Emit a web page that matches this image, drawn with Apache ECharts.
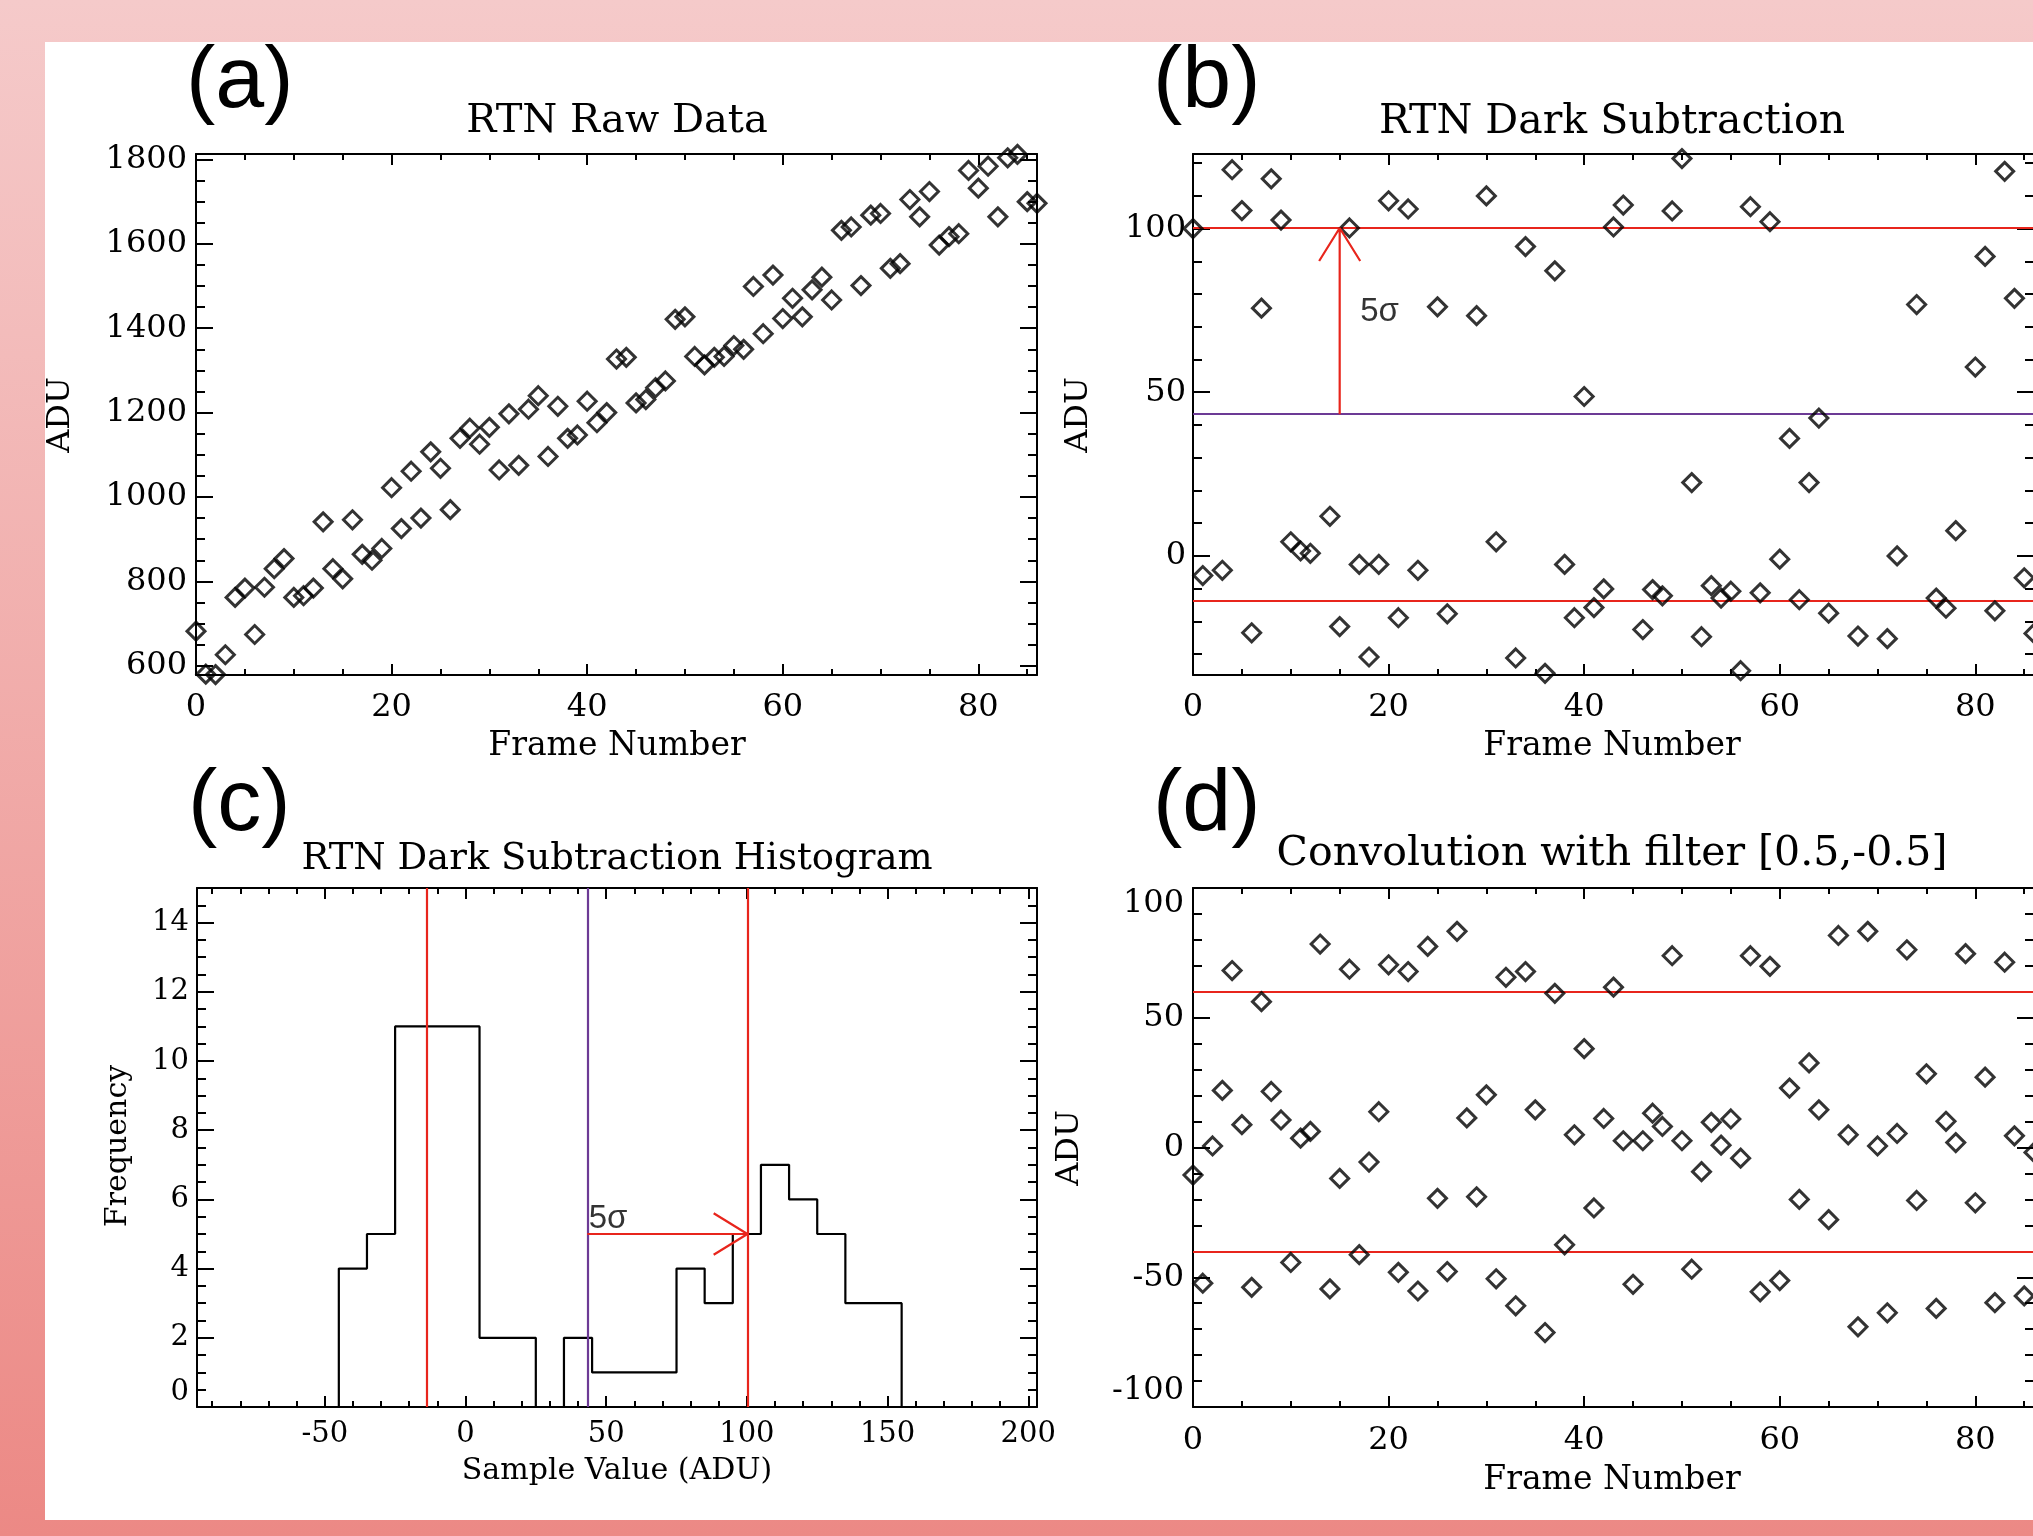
<!DOCTYPE html>
<html>
<head>
<meta charset="utf-8">
<script src="https://cdn.jsdelivr.net/npm/echarts@6/dist/echarts.min.js"></script>
<style>
html, body { margin: 0; padding: 0; }
body {
	width: 2033px;
	height: 1536px;
	overflow: hidden;
	position: relative;
	background: linear-gradient(to bottom, #f5caca 0%, #ec8985 100%);
}
.paper {
	position: absolute;
	left: 45px;
	top: 42px;
	width: 1988px;
	height: 1478px;
	background: #fff;
}
#chart {
	position: absolute;
	left: 0;
	top: 0;
	width: 2033px;
	height: 1536px;
}
</style>
</head>
<body>
<div class="paper"></div>
<div id="chart"></div>
<script>
// frame index 0..86
const frames = Array.from({length: 87}, (_, i) => i);

// (a) raw signal, ADU
const rawAdu = [
	682, 580, 579, 626, 762, 784, 674, 786, 830, 854,
	762, 766, 784, 941, 830, 806, 946, 864, 850, 878,
	1022, 925, 1061, 950, 1107, 1068, 970, 1139, 1163, 1125,
	1165, 1064, 1197, 1075, 1208, 1240, 1096, 1215, 1139, 1147,
	1227, 1176, 1200, 1327, 1331, 1223, 1231, 1259, 1275, 1421,
	1427, 1333, 1313, 1331, 1333, 1359, 1350, 1499, 1387, 1526,
	1423, 1471, 1427, 1491, 1521, 1467, 1632, 1640, 1501, 1668,
	1672, 1542, 1553, 1705, 1664, 1724, 1597, 1617, 1624, 1774,
	1732, 1784, 1664, 1804, 1812, 1700, 1696
];

// (b) dark subtracted, null = off the plotted range
const darkSub = [
	100, -6.0, null, -4.4, 118.0, 105.5, -23.5, 75.7, 115.2, 102.6,
	4.3, 1.5, 0.8, null, 12.1, -21.6, 100.2, -2.6, -30.9, -2.6,
	108.5, -18.9, 106.0, -4.4, null, 76.1, -17.7, null, null, 73.4,
	110.0, 4.3, null, -31.2, 94.5, null, -35.9, 87.1, -2.6, -18.9,
	48.7, -15.8, -10.1, 100.5, 107.2, null, -22.5, -10.3, -12.2, 105.4,
	121.4, 22.4, -24.7, -9.1, -12.9, -10.8, -35.1, 106.7, -11.3, 102.1,
	-1.0, 35.9, -13.4, 22.4, 42.1, -17.5, null, null, -24.5, null,
	null, -25.3, 0.0, null, 76.8, null, -12.9, -16.0, 7.7, null,
	57.7, 91.5, -16.8, 117.5, 78.7, -6.7, -23.7
];

// (d) convolution with [0.5,-0.5]
const convolved = [
	-10.6, -52.3, 0.6, 22.0, 68.2, 8.8, -53.9, 56.2, 21.6, 10.6,
	-44.3, 3.6, 6.2, 78.4, -54.5, -11.9, 68.7, -41.3, -5.6, 13.8,
	70.4, -48.1, 67.8, -55.3, 77.5, -19.6, -47.8, 83.3, 11.4, -19.0,
	20.3, -50.6, 65.6, -61.0, 67.8, 14.5, -71.3, 59.4, -37.5, 4.9,
	38.1, -23.3, 11.2, 61.8, 2.6, -52.7, 2.6, 13.2, 8.1, 73.9,
	2.6, -46.9, -9.3, 9.7, 0.9, 11.0, -4.1, 73.9, -55.6, 69.8,
	-51.3, 22.9, -20.0, 32.6, 14.5, -27.8, 81.7, 4.9, -69.1, 83.3,
	0.6, -63.7, 5.4, 76.2, -20.4, 28.4, -62.0, 10.1, 1.9, 74.7,
	-21.3, 27.1, -59.8, 71.4, 4.5, -57.2, -1.9
];

// (c) histogram
const histEdges = [-45, -35, -25, -15, -5, 5, 15, 25, 35, 45, 55, 65, 75, 85, 95, 105, 115, 125, 135, 145, 155];
const histCounts = [4, 5, 11, 11, 11, 2, 2, 0, 2, 1, 1, 1, 4, 3, 5, 7, 6, 5, 3, 3];

const darkMean = 43.3;
const fiveSigma = 56.9;
const convLimits = [60, -40];

const RED = '#e8251c';
const PURPLE = '#6c3a95';
const INK = '#000';
const serif = '"DejaVu Serif", serif';
const sans = '"Liberation Sans", Arial, sans-serif';

function range(a, b, s) {
	const out = [];
	for (let v = a; v <= b + 1e-9; v += s) out.push(+v.toFixed(6));
	return out;
}

const grid = [
	{left: 196, top: 154, width: 841, height: 521},
	{left: 1193, top: 154, width: 841, height: 521},
	{left: 197, top: 888, width: 840, height: 519},
	{left: 1193, top: 888, width: 841, height: 519}
].map(g => Object.assign({containLabel: false, outerBoundsMode: 'none'}, g));

const xAxis = [], yAxis = [];
// box axes: main side with labels + major ticks, minor ticks, then the mirrored side
function addFrame(list, horizontal, gi, min, max, majors, minors, label) {
	const sides = horizontal ? ['bottom', 'top'] : ['left', 'right'];
	const majorLen = horizontal ? 11 : 17;
	const minorLen = horizontal ? 6 : 9;
	const start = list.length;
	sides.forEach((side, k) => {
		list.push({
			type: 'value', gridIndex: gi, position: side, min: min, max: max,
			axisLine: {show: true, onZero: false, lineStyle: {color: INK, width: 2}},
			axisTick: {show: true, inside: true, length: majorLen, customValues: majors, lineStyle: {color: INK, width: 2}},
			axisLabel: k === 0 ? Object.assign({
				show: true, customValues: majors, color: INK, fontFamily: serif,
				formatter: v => String(v)
			}, label) : {show: false},
			splitLine: {show: false}
		});
		list.push({
			type: 'value', gridIndex: gi, position: side, min: min, max: max,
			axisLine: {show: false, onZero: false},
			axisTick: {show: true, inside: true, length: minorLen, customValues: minors, lineStyle: {color: INK, width: 2}},
			axisLabel: {show: false},
			splitLine: {show: false}
		});
	});
	return start;
}

const frameMajors = [0, 20, 40, 60, 80];
const frameMinors = range(0, 85, 5);

const xa = addFrame(xAxis, true, 0, 0, 86, frameMajors, frameMinors, {fontSize: 32, margin: 17});
const ya = addFrame(yAxis, false, 0, 578, 1813, range(600, 1800, 200), range(600, 1800, 50), {fontSize: 32, margin: 9});
const xb = addFrame(xAxis, true, 1, 0, 86, frameMajors, frameMinors, {fontSize: 32, margin: 17});
const yb = addFrame(yAxis, false, 1, -36.4, 122.8, [0, 50, 100], range(-30, 120, 10), {fontSize: 32, margin: 7});
const xc = addFrame(xAxis, true, 2, -95.4, 203.1, range(-50, 200, 50), range(-90, 200, 10), {fontSize: 29, margin: 13});
const yc = addFrame(yAxis, false, 2, 0, 15, range(0, 14, 2), range(0, 15, 0.5), {fontSize: 29, margin: 8, verticalAlignMinLabel: 'bottom'});
const xd = addFrame(xAxis, true, 3, 0, 86, frameMajors, frameMinors, {fontSize: 32, margin: 18});
const yd = addFrame(yAxis, false, 3, -100, 100, range(-100, 100, 50), range(-100, 100, 10), {fontSize: 32, margin: 9, verticalAlignMinLabel: 'bottom', verticalAlignMaxLabel: 'top'});

const diamond = {
	type: 'scatter', symbol: 'diamond', symbolSize: 18,
	itemStyle: {color: 'rgba(0,0,0,0)', borderColor: INK, borderWidth: 3},
	z: 5
};
function pairs(xs, ys) {
	return xs.map((x, i) => [x, ys[i]]).filter(p => p[1] !== null);
}
function flatLines(lines, horizontal) {
	return {
		symbol: ['none', 'none'], silent: true, animation: false,
		label: {show: false},
		data: lines.map(l => ({
			[horizontal ? 'yAxis' : 'xAxis']: l.v,
			lineStyle: {color: l.c, width: 2.2, type: 'solid'}
		}))
	};
}
function arrow(xi, yi, pts) {
	return {
		type: 'line', xAxisIndex: xi, yAxisIndex: yi, data: pts,
		symbol: 'none', lineStyle: {color: RED, width: 2.2}, z: 6, silent: true
	};
}
function note(xi, yi, pos, size) {
	return {
		type: 'scatter', xAxisIndex: xi, yAxisIndex: yi, data: [pos], symbolSize: 0, silent: true,
		label: {show: true, position: [0, 0], align: 'left', verticalAlign: 'middle',
			formatter: '5\u03c3', color: INK, fontFamily: sans, fontSize: size}
	};
}

// histogram outline as steps through the bin edges
const histLine = [[histEdges[0], 0]];
histCounts.forEach((c, i) => histLine.push([histEdges[i], c]));
histLine.push([histEdges[histEdges.length - 1], histCounts[histCounts.length - 1]]);
histLine.push([histEdges[histEdges.length - 1], 0]);

const upper = darkMean + fiveSigma;
const lower = darkMean - fiveSigma;

const series = [
	Object.assign({}, diamond, {xAxisIndex: xa, yAxisIndex: ya, data: pairs(frames, rawAdu)}),
	Object.assign({}, diamond, {xAxisIndex: xb, yAxisIndex: yb, data: pairs(frames, darkSub),
		markLine: flatLines([{v: upper, c: RED}, {v: lower, c: RED}, {v: darkMean, c: PURPLE}], true)}),
	arrow(xb, yb, [[15, darkMean], [15, upper], [12.9, upper - 10.1], [15, upper], [17.1, upper - 10.1]]),
	note(xb, yb, [17.1, 74.4], 33),
	{
		type: 'line', xAxisIndex: xc, yAxisIndex: yc, data: histLine, step: 'end',
		symbol: 'none', lineStyle: {color: INK, width: 2.2}, z: 4,
		markLine: flatLines([{v: lower, c: RED}, {v: upper, c: RED}, {v: darkMean, c: PURPLE}], false)
	},
	arrow(xc, yc, [[darkMean, 5], [upper, 5], [upper - 12, 5.6], [upper, 5], [upper - 12, 4.4]]),
	note(xc, yc, [43.8, 5.45], 33),
	Object.assign({}, diamond, {xAxisIndex: xd, yAxisIndex: yd, data: pairs(frames, convolved),
		markLine: flatLines(convLimits.map(v => ({v: v, c: RED})), true)})
];

function txt(text, x, y, font, opts) {
	const o = opts || {};
	return {
		type: 'text', x: x, y: y, silent: true, z: 10, rotation: o.rotation || 0,
		style: {text: text, x: 0, y: 0, font: font, fill: INK,
			textAlign: o.align || 'center', textVerticalAlign: 'middle'}
	};
}
const up = {rotation: Math.PI / 2};
const left = {align: 'left'};
const graphic = [
	txt('(a)', 186, 83, '88px ' + sans, left),
	txt('(b)', 1153, 83, '88px ' + sans, left),
	txt('(c)', 188, 806, '88px ' + sans, left),
	txt('(d)', 1153, 806, '88px ' + sans, left),
	txt('RTN Raw Data', 617, 122, '40px ' + serif),
	txt('RTN Dark Subtraction', 1612, 122, '41px ' + serif),
	txt('RTN Dark Subtraction Histogram', 617, 859, '37px ' + serif),
	txt('Convolution with filter [0.5,-0.5]', 1612, 854, '41px ' + serif),
	txt('Frame Number', 617, 746, '33px ' + serif),
	txt('Frame Number', 1612, 746, '33px ' + serif),
	txt('Sample Value (ADU)', 617, 1471, '30px ' + serif),
	txt('Frame Number', 1612, 1480, '33px ' + serif),
	txt('ADU', 61, 415, '32px ' + serif, up),
	txt('ADU', 1079, 415, '32px ' + serif, up),
	txt('Frequency', 118, 1146, '30px ' + serif, up),
	txt('ADU', 1070, 1148, '32px ' + serif, up)
];

const chart = echarts.init(document.getElementById('chart'));
chart.setOption({
	backgroundColor: 'transparent',
	animation: false,
	grid: grid,
	xAxis: xAxis,
	yAxis: yAxis,
	series: series,
	graphic: graphic
});
</script>
</body>
</html>
